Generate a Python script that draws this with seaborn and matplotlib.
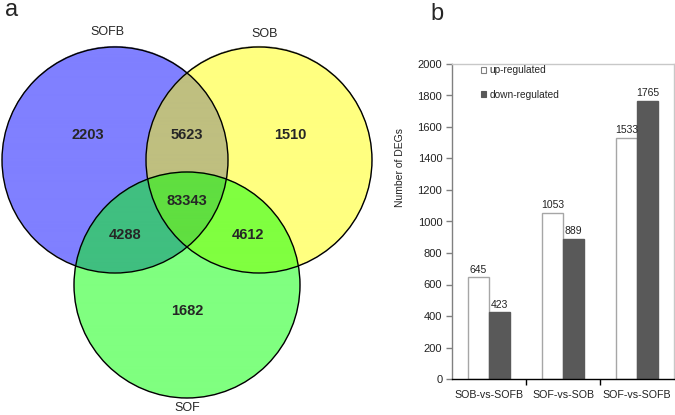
import seaborn as sns
import matplotlib
matplotlib.use('Agg')
import matplotlib.pyplot as plt
from matplotlib.patches import Circle, Patch
import numpy as np
import pandas as pd

# dados do diagrama de Venn (a)
conjuntos = ['SOFB', 'SOB', 'SOF']
regioes = ['SOFB', 'SOFB&SOB', 'SOB', 'SOFB&SOB&SOF', 'SOFB&SOF', 'SOB&SOF', 'SOF']
contagens = [2203, 5623, 1510, 83343, 4288, 4612, 1682]

# dados do grafico de barras (b)
comparacoes = ['SOB-vs-SOFB', 'SOF-vs-SOB', 'SOF-vs-SOFB']
up = [645, 1053, 1533]
down = [423, 889, 1765]

sns.set_style('white')
plt.rcParams['font.family'] = ['Liberation Sans', 'DejaVu Sans']

fig = plt.figure(figsize=(6.75, 4.15), dpi=100)

# ---- Venn (coordenadas em pixels) ----
ax1 = fig.add_axes([0, 0, 0.6, 1])
ax1.set_xlim(0, 405)
ax1.set_ylim(415, 0)
ax1.axis('off')

centros = {'SOFB': (115, 160), 'SOB': (259, 160), 'SOF': (187, 285)}
raio = 113
cores = {'SOFB': '#8080FF', 'SOB': '#FFFF80', 'SOF': '#80FF80',
         'SOFB&SOB': '#BFBF80', 'SOFB&SOF': '#40BF80', 'SOB&SOF': '#80FF40',
         'SOFB&SOB&SOF': '#60DF40'}

xs = np.linspace(0, 405, 1620)
ys = np.linspace(0, 415, 1660)
X, Y = np.meshgrid(xs, ys)
dentro = {k: (X - c[0]) ** 2 + (Y - c[1]) ** 2 <= raio ** 2 for k, c in centros.items()}
img = np.zeros(X.shape + (4,))
for r in regioes:
    partes = r.split('&')
    m = np.ones(X.shape, dtype=bool)
    for k in conjuntos:
        m &= dentro[k] if k in partes else ~dentro[k]
    img[m] = matplotlib.colors.to_rgba(cores[r])
ax1.imshow(img, extent=(0, 405, 415, 0), interpolation='antialiased', aspect='auto')
for k in conjuntos:
    ax1.add_patch(Circle(centros[k], raio, fill=False, edgecolor='black', lw=1))

pos_txt = {'SOFB': (88, 135), 'SOFB&SOB': (187, 135), 'SOB': (290, 135),
           'SOFB&SOB&SOF': (187, 201), 'SOFB&SOF': (125, 235), 'SOB&SOF': (248, 235),
           'SOF': (187, 311)}
for r, n in zip(regioes, contagens):
    ax1.text(*pos_txt[r], str(n), ha='center', va='center', fontsize=10.5, fontweight='bold')
pos_nome = {'SOFB': (107, 32), 'SOB': (265, 34), 'SOF': (187, 408)}
for k in conjuntos:
    ax1.text(*pos_nome[k], k, ha='center', va='center', fontsize=9)
ax1.text(12, 10, 'a', ha='center', va='center', fontsize=17)

# ---- barras ----
df = pd.DataFrame({'comp': comparacoes * 2,
                   'valor': up + down,
                   'tipo': ['up-regulated'] * 3 + ['down-regulated'] * 3})
ax2 = fig.add_axes([452 / 675, 36 / 415, 222 / 675, 315 / 415])
sns.barplot(data=df, x='comp', y='valor', hue='tipo', ax=ax2, width=0.58, gap=0,
            palette=['white', '#595959'], saturation=1, legend=False)
bordas = ['#A6A6A6', '#595959']
for bar, ec in zip(ax2.containers, bordas):
    for p in bar:
        p.set_edgecolor(ec)
        p.set_linewidth(1)
    ax2.bar_label(bar, fontsize=7.5, padding=2, color='#222222')

ax2.set_ylim(0, 2000)
ax2.set_yticks(range(0, 2001, 200))
ax2.set_xlim(-0.5, 2.5)
ax2.set_xlabel('')
ax2.set_ylabel('Number of DEGs', fontsize=7.5, color='#222222')
ax2.yaxis.set_label_coords(-0.21, 0.67)
ax2.tick_params(axis='y', labelsize=8, length=4, width=1, color='#808080', direction='out', left=True, pad=3)
ax2.tick_params(axis='x', which='major', labelsize=7.7, length=0, pad=8)
ax2.set_xticks([0.5, 1.5], minor=True)
ax2.tick_params(axis='x', which='minor', length=4, width=1, color='black', direction='out', bottom=True)
for lab in ax2.get_yticklabels() + ax2.get_xticklabels():
    lab.set_color('#222222')
ax2.spines['left'].set_color('#808080')
ax2.spines['bottom'].set_color('black')
ax2.spines['top'].set_color('#C8C8C8')
ax2.spines['right'].set_color('#C8C8C8')
for s in ax2.spines.values():
    s.set_linewidth(1)

alcas = [Patch(facecolor='white', edgecolor='#808080', lw=0.8, label='up-regulated'),
         Patch(facecolor='#595959', edgecolor='#595959', lw=0.8, label='down-regulated')]
ax2.legend(handles=alcas, loc='upper left', bbox_to_anchor=(0.09, 1.025), frameon=False, fontsize=7.3,
           handlelength=0.5, handleheight=0.5, handletextpad=0.3, labelspacing=1.45)
fig.text(437 / 675, 1 - 14 / 415, 'b', ha='center', va='center', fontsize=17)

fig.savefig('out.png', dpi=100)
